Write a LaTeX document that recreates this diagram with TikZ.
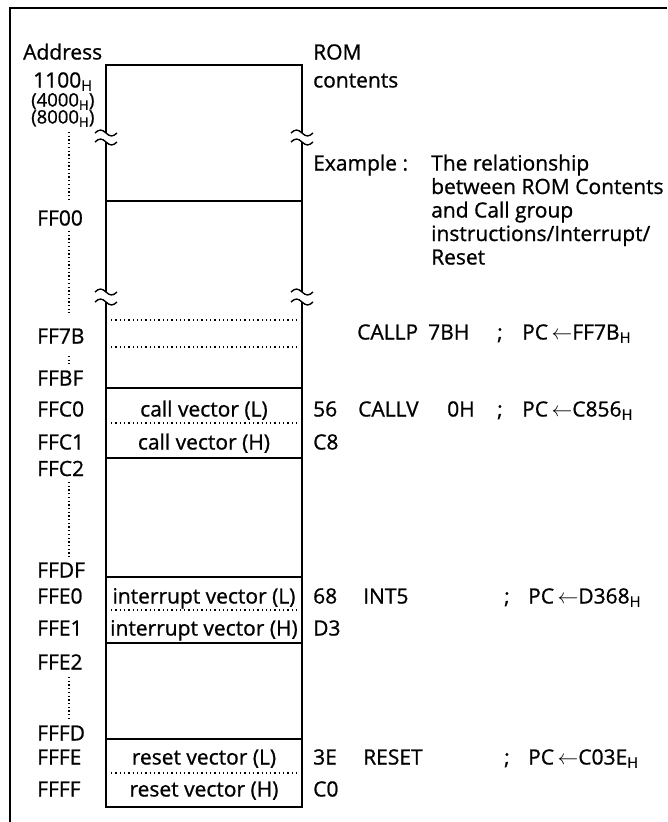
\documentclass[tikz,border=0pt]{standalone}
\usepackage{fontspec}
\setmainfont{Open Sans}[RawFeature={embolden=0.9}]
\newcommand\hsub{\textsubscript{H}}
\newcommand\larr{\,$\leftarrow$}
\begin{document}
\begin{tikzpicture}[x=1pt,y=-1pt,
  txt/.style={anchor=base west,inner sep=0pt,font=\fontsize{21}{24}\selectfont},
  ctxt/.style={anchor=base,inner sep=0pt,font=\fontsize{21}{24}\selectfont},
  sm/.style={anchor=base west,inner sep=0pt,font=\fontsize{18.5}{20}\selectfont},
  frameline/.style={line width=1.9pt},
  boxl/.style={line width=1.5pt},
  hdots/.style={line width=1.3pt,dash pattern=on 1.3pt off 3pt},
  vdots/.style={line width=1.3pt,dash pattern=on 1.3pt off 2.4pt},
  brk/.style={line width=1.4pt}]
\useasboundingbox (0,0) rectangle (667,822);
% outer frame
\draw[frameline] (667,8) -- (10,8) -- (10,822);
% memory box outline
\draw[boxl] (106,133) -- (106,65) -- (302,65) -- (302,133);
\draw[boxl] (106,142) -- (106,292);
\draw[boxl] (302,142) -- (302,292);
\draw[boxl] (106,302) -- (106,807) -- (302,807) -- (302,302);
% break marks
\foreach \bx in {106,302}{
  \foreach \by in {133,142,292,302}{
    \draw[brk] (\bx-11,\by) sin (\bx-5.5,\by-3) cos (\bx,\by) sin (\bx+5.5,\by+3) cos (\bx+11,\by);
  }
}
% separators
\foreach \yy in {201,388,458,577,643,739}{\draw[boxl] (106,\yy) -- (302,\yy);}
\foreach \yy in {320,347,423,610,773}{\draw[hdots] (111,\yy) -- (298,\yy);}
% address dotted lines
\draw[vdots] (69,132) -- (69,200);
\draw[vdots] (69,231) -- (69,313);
\draw[vdots] (69,356) -- (69,364);
\draw[vdots] (69,482) -- (69,557);
\draw[vdots] (69,677) -- (69,718);
% headers
\node[txt] (addr) at (23,59.5) {Address};
\node[txt] (a1100) at (33,87.5) {1100\hsub};
\node[sm] (a4000) at (31,106.5) {(4000\hsub)};
\node[sm] (a8000) at (31,123.5) {(8000\hsub)};
\node[txt] (rom) at (313,59.5) {ROM};
\node[txt] (cont) at (313,87.5) {contents};
% example text
\node[txt] (ex) at (313,170.5) {Example :};
\node[txt] (ex1) at (431,170.5) {The relationship};
\node[txt] (ex2) at (431,194) {between ROM Contents};
\node[txt] (ex3) at (431,217.5) {and Call group};
\node[txt] (ex4) at (431,241) {instructions/Interrupt/};
\node[txt] (ex5) at (431,264.5) {Reset};
% addresses
\node[txt] (ff00) at (37,225.5) {FF00};
\node[txt] (ff7b) at (37,343.5) {FF7B};
\node[txt] (ffbf) at (37,385.5) {FFBF};
\node[txt] (ffc0) at (37,416.5) {FFC0};
\node[txt] (ffc1) at (37,449.5) {FFC1};
\node[txt] (ffc2) at (37,476) {FFC2};
\node[txt] (ffdf) at (37,577.5) {FFDF};
\node[txt] (ffe0) at (37,603.5) {FFE0};
\node[txt] (ffe1) at (37,635.5) {FFE1};
\node[txt] (ffe2) at (37,669.5) {FFE2};
\node[txt] (fffd) at (37,740.5) {FFFD};
\node[txt] (fffe) at (37,764.5) {FFFE};
\node[txt] (ffff) at (37,796.5) {FFFF};
% box contents
\node[ctxt] (cvl) at (204,416.5) {call vector (L)};
\node[ctxt] (cvh) at (204,449.5) {call vector (H)};
\node[ctxt] (ivl) at (204,603.5) {interrupt vector (L)};
\node[ctxt] (ivh) at (204,635.5) {interrupt vector (H)};
\node[ctxt] (rvl) at (204,764.5) {reset vector (L)};
\node[ctxt] (rvh) at (204,796.5) {reset vector (H)};
% values
\node[txt] (v56) at (313,416.5) {56};
\node[txt] (vc8) at (313,449.5) {C8};
\node[txt] (v68) at (313,603.5) {68};
\node[txt] (vd3) at (313,635.5) {D3};
\node[txt] (v3e) at (313,764.5) {3E};
\node[txt] (vc0) at (313,796.5) {C0};
% instructions
\node[txt] (callp) at (357,339.5) {CALLP};
\node[txt] (callpa) at (428,339.5) {7BH};
\node[txt] (callps) at (497,339.5) {;};
\node[txt] (callpc) at (522,339.5) {PC\larr FF7B\hsub};
\node[txt] (callv) at (358,416.5) {CALLV};
\node[txt] (callva) at (447,416.5) {0H};
\node[txt] (callvs) at (497,416.5) {;};
\node[txt] (callvc) at (522,416.5) {PC\larr C856\hsub};
\node[txt] (int5) at (363,603.5) {INT5};
\node[txt] (int5s) at (504,603.5) {;};
\node[txt] (int5c) at (528,603.5) {PC\larr D368\hsub};
\node[txt] (rst) at (363,764.5) {RESET};
\node[txt] (rsts) at (504,764.5) {;};
\node[txt] (rstc) at (528,764.5) {PC\larr C03E\hsub};
\end{tikzpicture}
\end{document}
